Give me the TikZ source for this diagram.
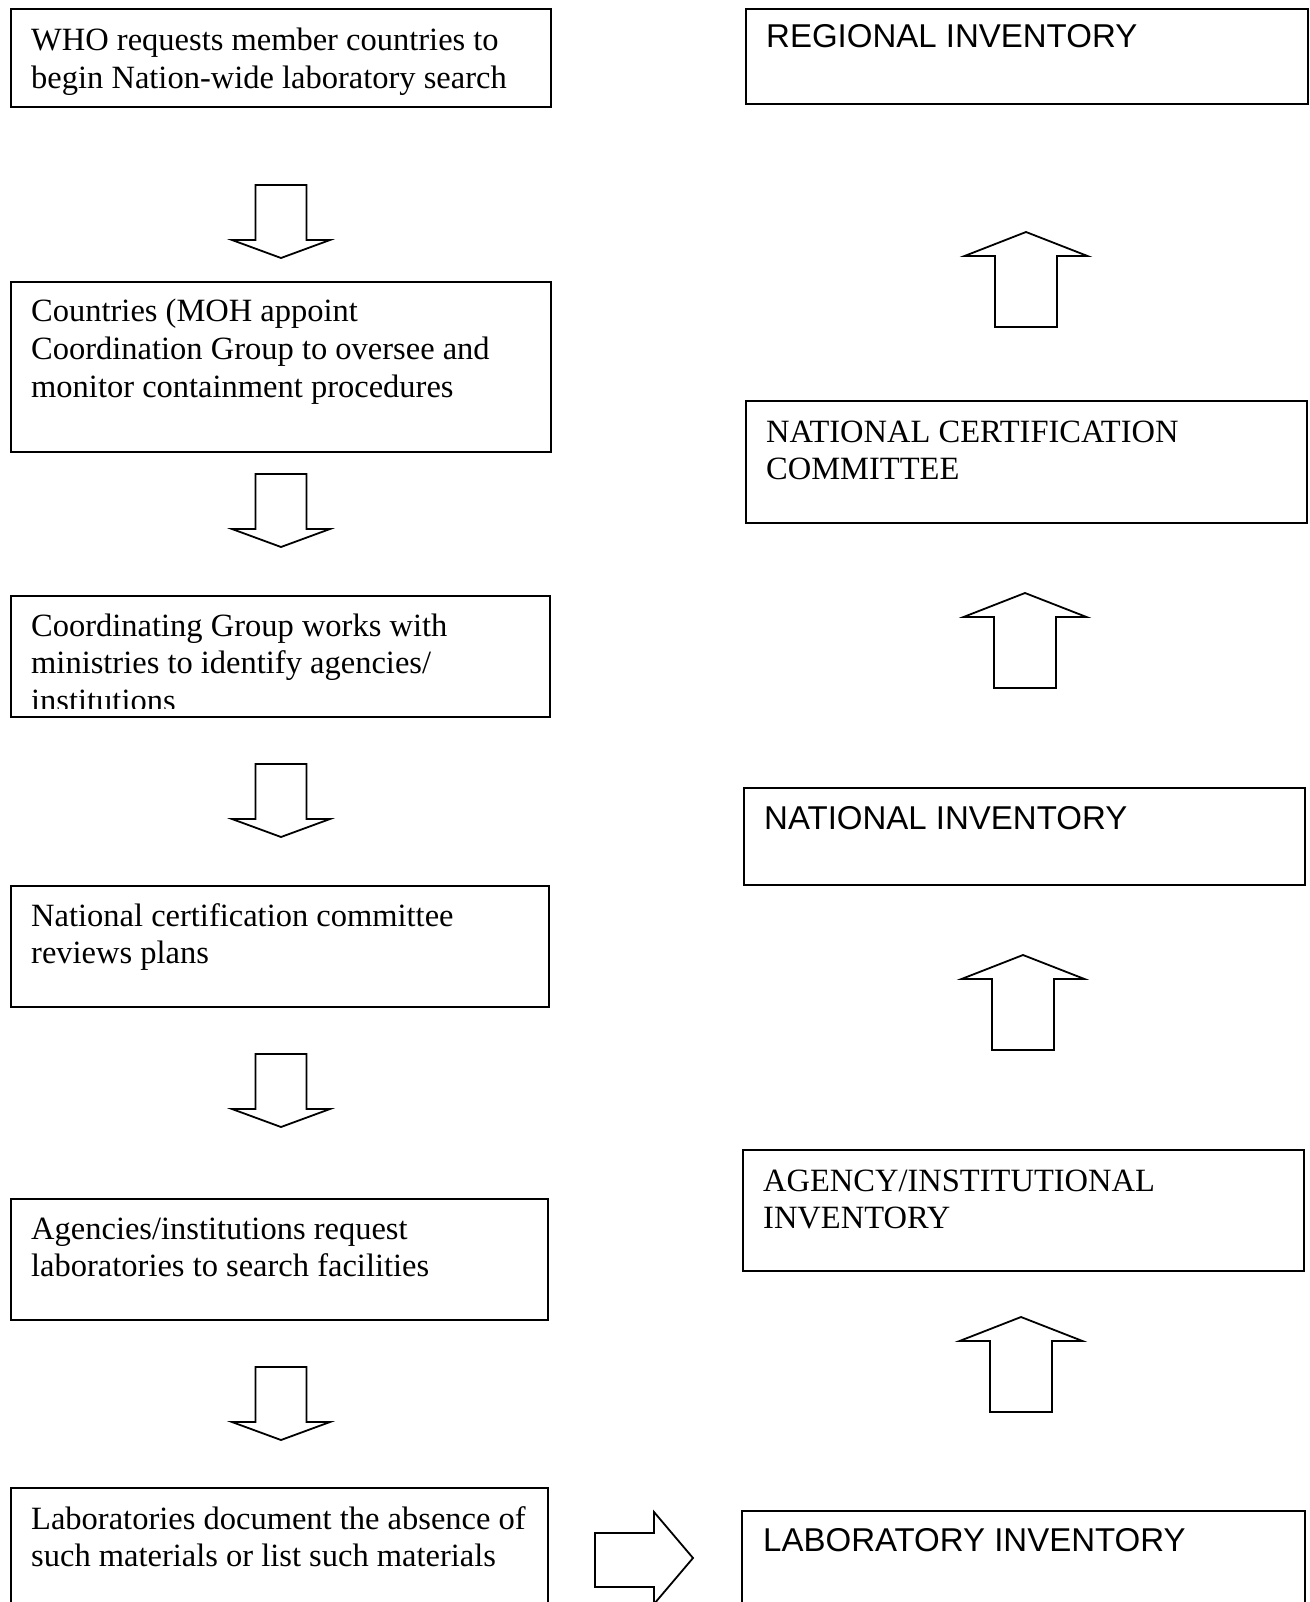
\documentclass[tikz,border=0pt]{standalone}
\usepackage{fontspec}
\setmainfont{Liberation Serif}
\setsansfont{Liberation Sans}
\usetikzlibrary{calc}
% block arrows, (x,y) is the end the arrow starts from
\def\downblock(#1,#2){\draw[blockarrow] (#1-25.5,#2) -- (#1+25.5,#2) -- (#1+25.5,#2+55) -- (#1+49,#2+55) -- (#1,#2+73) -- (#1-49,#2+55) -- (#1-25.5,#2+55) -- cycle;}
\def\upblock(#1,#2){\draw[blockarrow] (#1,#2) -- (#1+61.5,#2+24) -- (#1+31,#2+24) -- (#1+31,#2+95) -- (#1-31,#2+95) -- (#1-31,#2+24) -- (#1-61.5,#2+24) -- cycle;}
% lines of a box, baseline on the first line
\newcommand{\boxlines}[1]{\begin{tabular}[t]{@{}l@{}}#1\end{tabular}}

\begin{document}
\begin{tikzpicture}[x=1pt,y=-1pt,
	box/.style={draw, line width=1.8pt, anchor=north west, inner sep=0pt},
	txt/.style={font=\fontsize{32.5pt}{37.8pt}\selectfont, inner sep=0pt, anchor=base west},
	sanstxt/.style={txt, font=\sffamily\fontsize{33pt}{37.8pt}\selectfont},
	blockarrow/.style={draw, line width=1.8pt, fill=white, line join=miter}]
	%%%%% START %%%%%
	\clip (0,0) rectangle (1309,1602);
	\fill[white] (0,0) rectangle (1309,1602);
	
	% left column
	\node[box, minimum width=540pt, minimum height=98pt] (who) at (10,8) {};
	\node[txt] (who-t) at ([shift={(21pt,-43pt)}]who.north west) {\boxlines{WHO requests member countries to\\begin Nation-wide laboratory search}};
	
	\node[box, minimum width=540pt, minimum height=170pt] (moh) at (10,281) {};
	\node[txt] (moh-t) at ([shift={(21pt,-41pt)}]moh.north west) {\boxlines{Countries (MOH appoint\\Coordination Group to oversee and\\monitor containment procedures}};
	
	\node[box, minimum width=539pt, minimum height=121pt] (group) at (10,595) {};
	\begin{scope}
		\clip (10,595) rectangle (549,708);
		\node[txt] (group-t) at ([shift={(21pt,-41pt)}]group.north west) {\boxlines{Coordinating Group works with\\ministries to identify agencies/\\institutions}};
	\end{scope}
	
	\node[box, minimum width=538pt, minimum height=121pt] (ncc) at (10,885) {};
	\node[txt] (ncc-t) at ([shift={(21pt,-41pt)}]ncc.north west) {\boxlines{National certification committee\\reviews plans}};
	
	\node[box, minimum width=537pt, minimum height=121pt] (agency) at (10,1198) {};
	\node[txt] (agency-t) at ([shift={(21pt,-41pt)}]agency.north west) {\boxlines{Agencies/institutions request\\laboratories to search facilities}};
	
	\node[box, minimum width=537pt, minimum height=160pt] (lab) at (10,1487) {};
	\node[txt] (lab-t) at ([shift={(21pt,-42pt)}]lab.north west) {\boxlines{Laboratories document the absence of\\such materials or list such materials}};
	
	\downblock(281,185)
	\downblock(281,474)
	\downblock(281,764)
	\downblock(281,1054)
	\downblock(281,1367)
	
	% right column
	\node[box, minimum width=562pt, minimum height=95pt] (reg) at (745,8) {};
	\node[sanstxt] (reg-t) at ([shift={(21pt,-40pt)}]reg.north west) {REGIONAL INVENTORY};
	
	\node[box, minimum width=561pt, minimum height=122pt] (natcc) at (745,400) {};
	\node[txt] (natcc-t) at ([shift={(21pt,-42pt)}]natcc.north west) {\boxlines{NATIONAL CERTIFICATION\\COMMITTEE}};
	
	\node[box, minimum width=561pt, minimum height=97pt] (natinv) at (743,787) {};
	\node[sanstxt] (natinv-t) at ([shift={(21pt,-42pt)}]natinv.north west) {NATIONAL INVENTORY};
	
	\node[box, minimum width=561pt, minimum height=121pt] (agencyinv) at (742,1149) {};
	\node[txt] (agencyinv-t) at ([shift={(21pt,-42pt)}]agencyinv.north west) {\boxlines{AGENCY/INSTITUTIONAL\\INVENTORY}};
	
	\node[box, minimum width=563pt, minimum height=160pt] (labinv) at (741,1510) {};
	\node[sanstxt] (labinv-t) at ([shift={(22pt,-41pt)}]labinv.north west) {LABORATORY INVENTORY};
	
	\upblock(1026,232)
	\upblock(1025,593)
	\upblock(1023,955)
	\upblock(1021,1317)
	
	% lab to lab inventory
	\draw[blockarrow] (595,1533) -- (654,1533) -- (654,1512) -- (693,1558) -- (654,1604) -- (654,1587) -- (595,1587) -- cycle;
	%%%%% END %%%%%
\end{tikzpicture}
\end{document}
